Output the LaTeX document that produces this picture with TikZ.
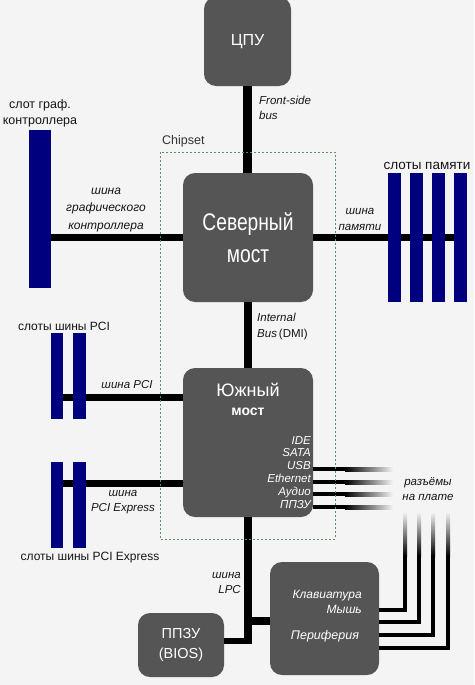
\documentclass[tikz,border=0pt]{standalone}
\usepackage{fontspec}
\setmainfont{Liberation Sans}
\newfontfamily\condfont[FakeStretch=0.8]{Liberation Sans}
\definecolor{bgc}{HTML}{F4F4F4}
\definecolor{boxc}{HTML}{555555}
\definecolor{slotc}{HTML}{00007F}
\definecolor{chipc}{HTML}{5E8F5E}
\definecolor{txtc}{HTML}{151515}
\begin{document}
\begin{tikzpicture}[x=1pt,y=-1pt,
  box/.style={fill=boxc, rounded corners=12pt, inner sep=0pt, text=white, align=center},
  slot/.style={fill=slotc, inner sep=0pt, draw=none},
  bus/.style={line width=8.5pt, black},
  sbus/.style={line width=7pt, black},
  port/.style={line width=4pt, black},
  lab/.style={text=txtc, inner sep=0pt, align=center, font=\fontsize{12}{16}\selectfont},
  ilab/.style={text=txtc, inner sep=0pt, align=center, font=\fontsize{11.5}{16}\selectfont\itshape},
  wlab/.style={text=white, inner sep=0pt, font=\fontsize{11.5}{12.8}\selectfont\itshape}]
\useasboundingbox (0,0) rectangle (474,685);
\clip (0,0) rectangle (474,685);
\fill[bgc] (0,0) rectangle (474,685);

% boxes
\node[box, minimum width=87pt, minimum height=89pt, font=\fontsize{16}{18}\selectfont] (cpu) at (247.5,41.5) {ЦПУ};
\node[box, minimum width=130pt, minimum height=129pt] (nb) at (248,237.5) {};
\node[box, minimum width=130pt, minimum height=149pt] (sb) at (248,442.5) {};
\node[box, minimum width=86pt, minimum height=64pt, font=\fontsize{14.5}{20}\selectfont] (bios) at (181,645) {ППЗУ\\(BIOS)};
\node[box, minimum width=109pt, minimum height=113pt] (per) at (324.5,618.5) {};

% slots
\node[slot, minimum width=22pt, minimum height=158pt] (gslot) at (40,209) {};
\node[slot, minimum width=13pt, minimum height=129pt] (mem1) at (394.5,237.5) {};
\node[slot, minimum width=13pt, minimum height=129pt] (mem2) at (416.5,237.5) {};
\node[slot, minimum width=13pt, minimum height=129pt] (mem3) at (438.5,237.5) {};
\node[slot, minimum width=13pt, minimum height=129pt] (mem4) at (460.5,237.5) {};
\node[slot, minimum width=12pt, minimum height=86pt] (pci1) at (57,376) {};
\node[slot, minimum width=13pt, minimum height=86pt] (pci2) at (79.5,376) {};
\node[slot, minimum width=12pt, minimum height=86pt] (pcie1) at (57,505) {};
\node[slot, minimum width=13pt, minimum height=86pt] (pcie2) at (79.5,505) {};

% coordinates
\coordinate (pcij) at (183,397);
\coordinate (pciej) at (183,483);
\coordinate (lpcb) at (248,644);
\coordinate (lpcp) at (248,621);
\coordinate (lpcq) at (248,641);

% buses
\draw[bus] (cpu.south) -- (cpu.south |- nb.north);
\draw[bus] (nb.south) -- (nb.south |- sb.north);
\draw[sbus] (gslot.east |- nb.west) -- (nb.west);
\draw[sbus] (nb.east) -- (mem4.center);
\foreach \m in {mem1,mem2,mem3,mem4} {\fill[slotc] (\m.north west) rectangle (\m.south east);}
\draw[sbus] (pci1.east |- pcij) -- (pcij);
\fill[slotc] (pci2.north west) rectangle (pci2.south east);
\draw[sbus] (pcie1.east |- pciej) -- (pciej);
\fill[slotc] (pcie2.north west) rectangle (pcie2.south east);
\draw[bus] (sb.south) -- (lpcb);
\draw[line width=6pt] (lpcq) -- (bios.east |- lpcq);
\draw[line width=8pt] (lpcp) -- (per.west |- lpcp);

% port lines with fade
\foreach \y in {469,482,494,507} {
  \draw[port] (sb.east |- 0,\y) -- (345,\y);
  \shade[left color=black, right color=bgc] (345,\y-2) rectangle (393,\y+2);
}
% periphery lines
\foreach \y/\x in {610/405, 622/419, 635/433, 648/448} {
  \draw[port, line join=miter] (per.east |- 0,\y) -- (\x,\y) -- (\x,555);
  \shade[top color=bgc, bottom color=black] (\x-2,512) rectangle (\x+2,556);
}

% chipset frame
\draw[chipc, line width=0.8pt, dash pattern=on 2pt off 2pt] (160,152) rectangle (335,539);
\node[lab, anchor=west, text=black!80, font=\fontsize{12.5}{14}\selectfont] (chip) at (162,141) {Chipset};

% box texts
\node[text=white, align=center, inner sep=0pt, font=\condfont\fontsize{24}{32}\selectfont] (nbt) at (nb.center) {Северный\\мост};
\node[text=white, inner sep=0pt, font=\fontsize{18}{20}\selectfont] (sbt1) at (248,390) {Южный};
\node[text=white, inner sep=0pt, font=\bfseries\fontsize{14}{16}\selectfont] (sbt2) at (248,412) {мост};
\node[wlab, align=right, anchor=north east] (ports) at (311,436) {IDE\\SATA\\USB\\Ethernet\\Аудио\\ППЗУ};
\node[wlab, align=right, anchor=east, font=\fontsize{12}{15}\selectfont\itshape] (kbd) at (362,601.5) {Клавиатура\\Мышь};
\node[wlab, font=\fontsize{12.5}{15}\selectfont\itshape] (perl) at (325,636) {Периферия};

% labels
\node[lab, font=\fontsize{12.5}{16}\selectfont] (gl) at (40,113) {слот граф.\\контроллера};
\node[ilab, font=\fontsize{12}{17.5}\selectfont\itshape] (gbl) at (106,210) {шина\\графического\\контроллера};
\node[lab, font=\fontsize{13.5}{16}\selectfont] (meml) at (427,166) {слоты памяти};
\node[ilab] (mbl) at (360,219) {шина\\памяти};
\node[ilab, anchor=north west, align=left, font=\fontsize{11.5}{15}\selectfont\itshape] (fsb) at (259,96) {Front-side\\bus};
\node[ilab, anchor=north west, align=left, font=\fontsize{11.5}{16}\selectfont] (dmi) at (257,313) {\itshape Internal\\\itshape Bus\upshape\,(DMI)};
\node[lab] (pcil) at (64,326) {слоты шины PCI};
\node[ilab] (pcibl) at (127,385) {шина PCI};
\node[ilab, font=\fontsize{11.5}{15}\selectfont\itshape] (pciebl) at (123,502.5) {шина\\PCI Express};
\node[lab] (pciel) at (90,558) {слоты шины PCI Express};
\node[ilab, align=right, anchor=east, font=\fontsize{11.5}{15}\selectfont\itshape] (lpcl) at (241,582.5) {шина\\LPC};
\node[ilab, font=\fontsize{11.5}{15}\selectfont\itshape] (conn) at (428,489.5) {разъёмы\\на плате};
\end{tikzpicture}
\end{document}
